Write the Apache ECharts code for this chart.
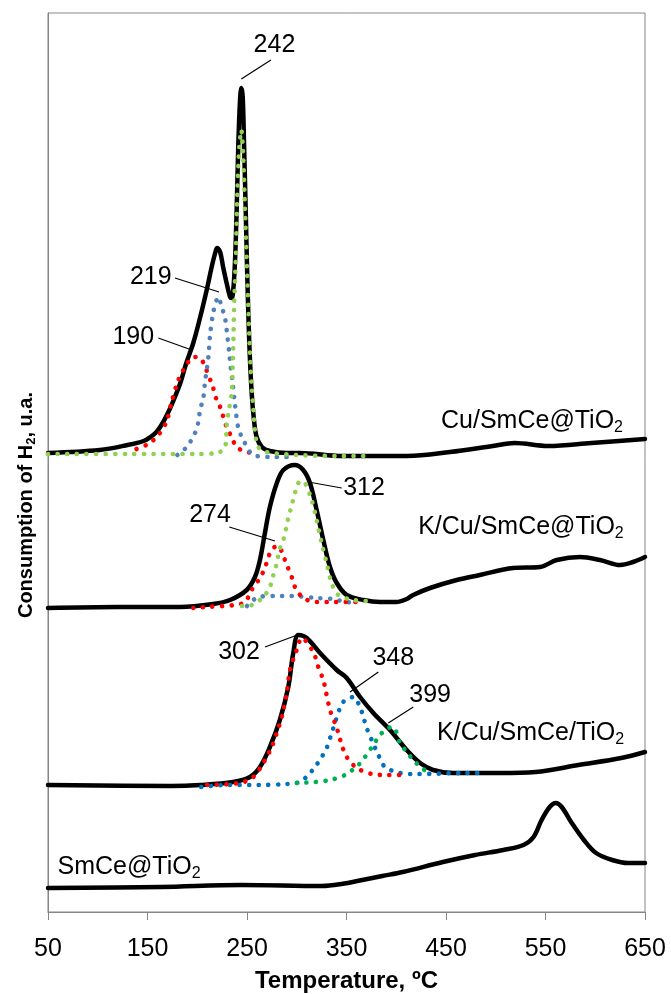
<!DOCTYPE html>
<html>
<head>
<meta charset="utf-8">
<script src="https://cdn.jsdelivr.net/npm/echarts@6/dist/echarts.min.js"></script>
<style>
html,body{margin:0;padding:0;background:#fff;}
#chart{width:671px;height:994px;}
</style>
</head>
<body>
<div id="chart"></div>
<script>
// ---- Data (temperature °C, H2 consumption in arbitrary units, curves stacked with offsets) ----
const xTicks = [50, 150, 250, 350, 450, 550, 650];

// Cu/SmCe@TiO2
const cuTotal = [[50,459],[102,462],[130,467],[146,471],[153,475],[159,480],[164,487],[169,496],[175,509],[183,529],[189,549],[196,569],[203,595],[209.5,622],[214.5,645],[218,659],[220,664],[223,660],[226,645],[229.5,629],[233,615],[234.6,614],[236.2,622],[238,652],[239.6,702],[241.3,769],[243,812],[244.3,824],[245.7,815],[247,769],[248.7,702],[250.3,635],[252.3,569],[254.7,519],[257,492],[259.7,475],[265,465],[273,461],[290,459],[303,459],[346,456],[411,456],[454,460],[497,466],[519,469],[553,466],[596,469],[650,473]];
const cuPeak190 = [[139,463],[149,467],[152.5,469],[161,477],[169,490],[174,509],[181,532],[191,550],[197,555],[203,554],[208,545],[216,524],[219.5,512],[223,505],[229.5,485],[234.5,475],[239.5,465],[249.5,460],[258,459]];
const cuPeak219 = [[180,457],[189.4,465],[197.8,479],[201.1,490],[202.8,502],[206.1,514],[207.8,530],[209.5,542],[211.2,555],[212.9,577],[216.2,600],[221.2,615],[224.6,605],[227.9,594],[229.6,582],[232.2,559],[233.6,545],[235.6,529],[238,507],[241.3,484],[246.3,472],[256.4,457],[276.5,455],[290,455]];
const cuPeak242 = [[50,458],[130,458],[200,458],[220,459],[228,465],[229.6,487],[231.3,499],[234.6,519],[235.6,545],[236.2,565],[237,604],[238.7,652],[240.3,719],[242.3,765],[244.3,782],[246.3,752],[248,702],[249.7,652],[251.4,602],[253,559],[254.7,525],[256.4,502],[258,482],[261.3,465],[269.6,460],[300,457],[340,456],[372,456]];

// K/Cu/SmCe@TiO2
const kcuAtTotal = [[50,304],[120,305],[182.7,305],[216,308],[233,312],[249.7,322],[258,335],[263,352],[268,379],[273,405],[280,429],[286.5,442],[298,447],[306.5,442],[313.3,429],[320,402],[326.7,372],[333.4,345],[340.2,329],[350.2,317],[367,312],[383.7,310],[400,310],[410.5,313],[417,317],[434,324],[460.8,332],[484,337],[517.6,344],[544.5,345],[561.3,352],[584.7,355],[604.8,352],[625,347],[638,350],[650,355]];
const kcuAtPeak274 = [[196,304],[209.5,305],[238,307],[248,310],[254.7,322],[263,334],[268,344],[271.4,355],[276.4,364],[281.5,366],[286.5,356],[290,347],[295,335],[298.2,325],[306.6,314],[320,310],[336.7,310],[363,310]];
const kcuAtPeak312 = [[245,306],[254.7,307],[266.4,315],[273,325],[276.4,337],[280,349],[282.5,362],[286.5,372],[289.2,383],[291.5,394],[295,407],[298.2,419],[301.6,429],[305,431],[308.3,429],[315,412],[320,392],[325,369],[330,349],[335,329],[341.8,317],[356.8,312],[370,311]];
const kcuAtBroad = [[250,306],[261.4,315],[277.4,316],[294.7,316],[320.5,314],[335.6,313],[350,310],[360,309]];

// K/Cu/SmCe/TiO2
const kcuOnTotal = [[50,127],[174,126],[203,127],[236,130],[253,135],[263,145],[273,165],[283,192],[291.5,225],[296.5,259],[301.6,277],[310,274],[323.4,259],[340.2,242],[350.2,234],[363.6,215],[377,199],[393.7,182],[410.5,162],[424,149],[437,142],[457,139],[504,139],[540,140],[583,147],[626,154],[650,160]];
const kcuOnPeak302 = [[210,127],[243,129],[256.3,135],[266.4,149],[274.8,165],[279.9,179],[284.9,195],[289.9,219],[293.2,242],[299.9,262],[305,274],[316.6,260],[321.7,245],[326.7,232],[329.4,220],[333.4,202],[338.4,189],[341.8,179],[345.2,167],[350.2,155],[360.3,144],[375.3,138],[390.4,137],[403.8,137]];
const kcuOnPeak348 = [[204,125],[229.6,127],[261.4,127],[289.9,128],[303.3,130],[311.6,137],[318.3,145],[325.1,155],[330.1,164],[335.1,179],[338.4,189],[343.5,204],[348.5,212],[356.8,215],[363.6,205],[366.9,195],[370.3,184],[375.3,172],[382,157],[388.7,145],[403.8,139],[420.6,138],[470.8,139],[488.5,139]];
const kcuOnPeak399 = [[300,129],[318.3,130],[333.4,132],[348.5,137],[361.9,147],[368.6,155],[376.9,167],[383.7,177],[392,184],[397,185],[403.8,169],[410.5,160],[417.1,152],[425.5,144],[433.9,139]];

// SmCe@TiO2
const smceTotal = [[50,24],[163.5,25],[244.4,27],[325.4,26],[345,28],[366,32],[386,36],[406.4,40],[446.9,50],[479.2,57],[507.6,62],[527.9,67],[538,75],[546.1,92],[554.2,105],[560.3,109],[566.3,105],[576.4,89],[588.6,72],[600.8,59],[617,52],[633.1,49],[650,49]];

// Curve names and peak temperature labels
const sampleNames = ['Cu/SmCe@TiO', 'K/Cu/SmCe@TiO', 'K/Cu/SmCe/TiO', 'SmCe@TiO'];
const peakLabels = ['242', '219', '190', '312', '274', '302', '348', '399'];

// ---- Layout (annotation anchors in data coordinates) ----
const FONT = "'Liberation Sans', Arial, sans-serif";
const nameAnchors = [[445, 491], [422, 385], [441, 179], [59.5, 45]];
const peakAnchors = [
  {c:[277.6,867], a:[274,852], b:[244.3,833]},
  {c:[153.3,635], a:[177.6,634], b:[221.9,620]},
  {c:[135.7,575], a:[160.9,574], b:[194.4,562]},
  {c:[367.6,424], a:[345.2,424], b:[311.6,430]},
  {c:[212.8,397], a:[232.2,385], b:[278.1,371]},
  {c:[242,260], a:[268.1,265], b:[303.3,278]},
  {c:[397,254], a:[382,240], b:[353.5,220]},
  {c:[434,217], a:[417.1,205], b:[392,189]}
];

const RED = '#FF0000', BLUE1 = '#4F81BD', GREEN1 = '#92D050', BLUE2 = '#0070C0', GREEN2 = '#00B050';

function solid(data) {
  return {type:'line', data:data, showSymbol:false, symbol:'none', smooth:0.35, z:2,
    lineStyle:{color:'#000', width:4.5, join:'round', cap:'round'}, silent:true};
}
function dotted(data, color) {
  return {type:'line', data:data, showSymbol:false, symbol:'none', smooth:0.3, z:3,
    lineStyle:{color:color, width:4.6, type:[0.1, 9.5], cap:'round'}, silent:true};
}

const chart = echarts.init(document.getElementById('chart'), null, {renderer:'canvas'});
chart.setOption({
  animation:false,
  backgroundColor:'#fff',
  grid:{left:48, right:26, top:13, bottom:82, show:true, borderColor:'#868686', borderWidth:1,
    backgroundColor:'transparent', containLabel:false, outerBoundsMode:'none'},
  xAxis:{type:'value', min:xTicks[0], max:xTicks[xTicks.length-1], interval:100,
    axisLine:{show:true, lineStyle:{color:'#868686', width:1}},
    axisTick:{show:true, length:8, lineStyle:{color:'#868686', width:1}},
    splitLine:{show:false},
    axisLabel:{fontSize:25, color:'#000', margin:25, fontFamily:FONT},
    name:'Temperature, ºC', nameLocation:'middle', nameGap:57,
    nameTextStyle:{fontSize:24, fontWeight:'bold', color:'#000', fontFamily:FONT}},
  yAxis:{type:'value', min:0, max:899,
    axisLine:{show:true, lineStyle:{color:'#868686', width:1}},
    axisTick:{show:false}, axisLabel:{show:false}, splitLine:{show:false}},
  series:[
    solid(cuTotal), solid(kcuAtTotal), solid(kcuOnTotal), solid(smceTotal),
    dotted(cuPeak190, RED), dotted(cuPeak219, BLUE1), dotted(cuPeak242, GREEN1),
    dotted(kcuAtBroad, BLUE1), dotted(kcuAtPeak274, RED), dotted(kcuAtPeak312, GREEN1),
    dotted(kcuOnPeak348, BLUE2), dotted(kcuOnPeak399, GREEN2), dotted(kcuOnPeak302, RED)
  ]
});

function toPx(p){ return chart.convertToPixel({seriesIndex:0}, p); }

const graphics = [];
sampleNames.forEach(function(n, i){
  const p = toPx(nameAnchors[i]);
  graphics.push({type:'text', x:p[0], y:p[1], z:10, silent:true,
    style:{text:'{a|' + n + '}{s|2}', align:'left', verticalAlign:'middle', fill:'#000',
      rich:{a:{fontSize:25, lineHeight:30, fontFamily:FONT, fill:'#000'},
            s:{fontSize:16, lineHeight:14, verticalAlign:'bottom', fontFamily:FONT, fill:'#000'}}}});
});
peakLabels.forEach(function(t, i){
  const an = peakAnchors[i];
  const c = toPx(an.c), a = toPx(an.a), b = toPx(an.b);
  graphics.push({type:'text', x:c[0], y:c[1], z:10, silent:true,
    style:{text:t, align:'center', verticalAlign:'middle', fontSize:25, fontFamily:FONT, fill:'#000'}});
  graphics.push({type:'line', z:10, silent:true, shape:{x1:a[0], y1:a[1], x2:b[0], y2:b[1]},
    style:{stroke:'#000', lineWidth:1.2}});
});
graphics.push({type:'text', x:26, y:505, rotation:Math.PI/2, z:10, silent:true,
  style:{text:'{b|Consumption of H}{s|2}{b|, u.a.}', align:'center', verticalAlign:'middle', fill:'#000',
    rich:{b:{fontSize:20, fontWeight:'bold', lineHeight:24, fontFamily:FONT, fill:'#000'},
          s:{fontSize:13, fontWeight:'bold', lineHeight:10, verticalAlign:'bottom', fontFamily:FONT, fill:'#000'}}}});
chart.setOption({graphic:graphics});
</script>
</body>
</html>
